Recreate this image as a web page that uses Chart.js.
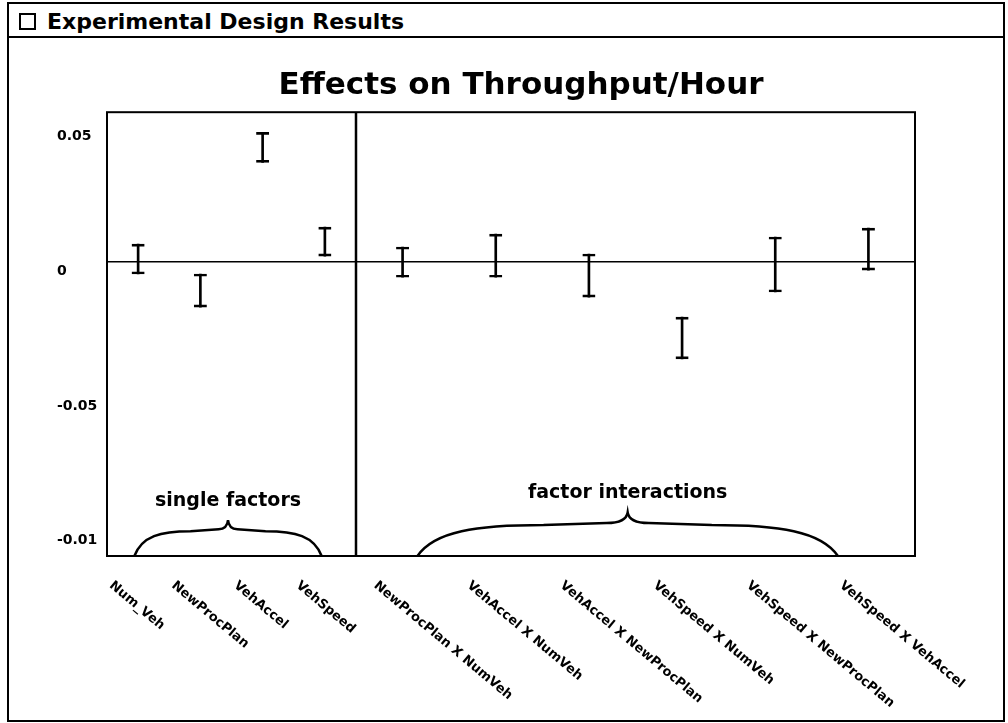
<!DOCTYPE html>
<html>
<head>
<meta charset="utf-8">
<script src="https://cdn.jsdelivr.net/npm/chart.js"></script>
<style>
	body { margin:0; background:#fff; width:1008px; height:723px; overflow:hidden; position:relative; font-family:"DejaVu Sans", sans-serif; }
	#marco { position:absolute; left:7px; top:2px; width:998px; height:720px; border:2px solid #000; box-sizing:border-box; }
	#barra { position:absolute; left:7px; top:36px; width:998px; height:2px; background:#000; }
	#caja { position:absolute; left:19px; top:13px; width:17px; height:17px; border:2px solid #000; box-sizing:border-box; }
	#titulo { position:absolute; left:47px; top:11px; font-weight:bold; font-size:22px; line-height:1; color:#000; white-space:nowrap; }
	#contenedor { position:absolute; left:9px; top:39px; width:994px; height:680px; }
</style>
</head>
<body>
<div id="marco"></div>
<div id="barra"></div>
<div id="caja"></div>
<div id="titulo">Experimental Design Results</div>
<div id="contenedor"><canvas id="myChart"></canvas></div>
<script>
var singleNames = ["Num_Veh", "NewProcPlan", "VehAccel", "VehSpeed"];
var singleLow = [-0.0044, -0.0167, 0.0370, 0.0022];
var singleHigh = [0.0067, -0.0044, 0.0481, 0.0130];

var interNames = ["NewProcPlan X NumVeh", "VehAccel X NumVeh", "VehAccel X NewProcPlan", "VehSpeed X NumVeh", "VehSpeed X NewProcPlan", "VehSpeed X VehAccel"];
var interLow = [-0.0056, -0.0056, -0.0130, -0.0359, -0.0111, -0.0030];
var interHigh = [0.0056, 0.0104, 0.0030, -0.0204, 0.0093, 0.0126];

var yTicks = [-0.1, -0.05, 0, 0.05];
var yTickLabels = ["-0.01", "-0.05", "0", "0.05"];
var groupNames = ["single factors", "factor interactions"];

var fuente = "'DejaVu Sans', sans-serif";

function pares(lo, hi) {
	var r = [];
	for (var i = 0; i < lo.length; i++) r.push([lo[i], hi[i]]);
	return r;
}

function llave(ctx, x0, x1, b, sh, cusp) {
	var w = x1 - x0, xm = (x0 + x1) / 2;
	ctx.beginPath();
	ctx.moveTo(x0, b);
	ctx.bezierCurveTo(x0 + 0.04 * w, b - 0.8 * sh, x0 + 0.14 * w, b - sh, x0 + 0.3 * w, b - sh);
	ctx.lineTo(xm - 0.05 * w, b - sh - 2);
	ctx.quadraticCurveTo(xm - 0.004 * w, b - sh - 2, xm, b - cusp);
	ctx.quadraticCurveTo(xm + 0.004 * w, b - sh - 2, xm + 0.05 * w, b - sh - 2);
	ctx.lineTo(x1 - 0.3 * w, b - sh);
	ctx.bezierCurveTo(x1 - 0.14 * w, b - sh, x1 - 0.04 * w, b - 0.8 * sh, x1, b);
	ctx.stroke();
}

// marco del grafico, separador, llaves y etiquetas giradas
var extras = {
	id: "extras",
	afterDraw: function(chart) {
		var ctx = chart.ctx, a = chart.chartArea;
		ctx.save();
		ctx.strokeStyle = "#000";
		ctx.lineWidth = 2;
		ctx.strokeRect(a.left, a.top, a.right - a.left, a.bottom - a.top);

		var xa = chart.scales.xa, xb = chart.scales.xb;
		ctx.lineWidth = 2.5;
		ctx.beginPath();
		ctx.moveTo(xb.left, a.top);
		ctx.lineTo(xb.left, a.bottom);
		ctx.stroke();

		var escalas = [xa, xb];
		ctx.lineWidth = 2.5;
		ctx.fillStyle = "#000";
		for (var k = 0; k < 2; k++) {
			var s = escalas[k];
			var x0 = s.left + 0.11 * s.width, x1 = s.left + 0.862 * s.width;
			var sh = 20 + (x1 - x0) * 0.026;
			var cusp = sh + 10 + (x1 - x0) * 0.006;
			llave(ctx, x0, x1, a.bottom, sh, cusp);
			ctx.font = "bold 19px " + fuente;
			ctx.textAlign = "center";
			ctx.textBaseline = "middle";
			ctx.fillText(groupNames[k], (x0 + x1) / 2, a.bottom - cusp - 19);
		}

		ctx.font = "bold 13px " + fuente;
		ctx.textAlign = "left";
		ctx.textBaseline = "top";
		for (var k = 0; k < 2; k++) {
			var s = escalas[k];
			for (var i = 0; i < s.ticks.length; i++) {
				var x = s.getPixelForTick(i);
				ctx.save();
				ctx.translate(x - 23, a.bottom + 23);
				ctx.rotate(40 * Math.PI / 180);
				ctx.fillText(s.getLabelForValue(s.ticks[i].value), 0, 0);
				ctx.restore();
			}
		}
		ctx.restore();
	}
};

function graf() {
	var ctx = document.getElementById("myChart").getContext("2d");
	var chart = new Chart(ctx, {
		type: "bar",
		data: {
			datasets: [
				{ xAxisID: "xa", data: pares(singleLow, singleHigh), backgroundColor: "rgba(0,0,0,0)", borderColor: "#000", borderWidth: {top: 2, bottom: 2, left: 0, right: 0}, borderSkipped: false, barThickness: 13, grouped: false },
				{ xAxisID: "xa", data: pares(singleLow, singleHigh), backgroundColor: "#000", borderWidth: 0, barThickness: 2, grouped: false },
				{ xAxisID: "xb", data: pares(interLow, interHigh), backgroundColor: "rgba(0,0,0,0)", borderColor: "#000", borderWidth: {top: 2, bottom: 2, left: 0, right: 0}, borderSkipped: false, barThickness: 13, grouped: false },
				{ xAxisID: "xb", data: pares(interLow, interHigh), backgroundColor: "#000", borderWidth: 0, barThickness: 2, grouped: false }
			]
		},
		options: {
			responsive: true,
			maintainAspectRatio: false,
			animation: false,
			events: [],
			layout: { padding: {left: 48, right: 18, top: 0, bottom: 0} },
			plugins: {
				legend: { display: false },
				tooltip: { enabled: false },
				title: {
					display: true,
					text: "Effects on Throughput/Hour",
					color: "#000",
					font: { family: fuente, size: 31, weight: "bold", lineHeight: 1.2 },
					padding: { top: 28, bottom: 8 }
				}
			},
			scales: {
				xa: {
					axis: "x", type: "category", position: "bottom", labels: singleNames,
					stack: "abajo", stackWeight: 1,
					grid: { display: false }, border: { display: false },
					ticks: { display: false },
					afterFit: function(s) { s.height = 163; }
				},
				xb: {
					axis: "x", type: "category", position: "bottom", labels: interNames,
					stack: "abajo", stackWeight: 2.245,
					grid: { display: false }, border: { display: false },
					ticks: { display: false },
					afterFit: function(s) { s.height = 163; }
				},
				y: {
					position: "left", min: -0.109, max: 0.0556,
					afterBuildTicks: function(s) { s.ticks = yTicks.map(function(v) { return {value: v}; }); },
					afterFit: function(s) { s.width = 50; },
					border: { display: false },
					grid: {
						drawTicks: false,
						lineWidth: 1.5,
						color: function(c) { return c.tick && c.tick.value === 0 ? "#000" : "rgba(0,0,0,0)"; }
					},
					ticks: {
						crossAlign: "far",
						labelOffset: 9,
						color: "#000",
						font: { family: fuente, size: 14, weight: "bold" },
						callback: function(v, i) { return yTickLabels[i]; }
					}
				},
				yr: {
					axis: "y", position: "right", display: true,
					grid: { display: false }, border: { display: false },
					ticks: { display: false },
					afterFit: function(s) { s.width = 70; }
				}
			}
		},
		plugins: [extras]
	});
}

graf();
</script>
</body>
</html>
